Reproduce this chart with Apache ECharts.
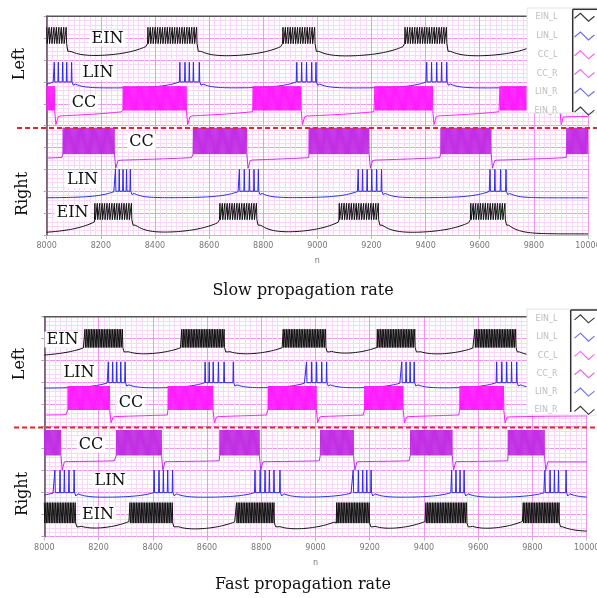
<!DOCTYPE html>
<html>
<head>
<meta charset="utf-8">
<script src="https://cdn.jsdelivr.net/npm/echarts@6/dist/echarts.min.js"></script>
<style>
  html, body { margin: 0; padding: 0; background: #fff; }
  #main { width: 597px; height: 598px; }
</style>
</head>
<body>
<div id="main"></div>
<script>
// x range and tick step of both panels
const N_MIN = 8000, N_MAX = 10000, N_STEP = 200;
const traceNames = ['EIN_L', 'LIN_L', 'CC_L', 'CC_R', 'LIN_R', 'EIN_R'];

// ---- slow propagation rate (burst [start, end] or spike times)
const slowEIN_L = [[8000, 8080], [8374, 8559], [8873, 8997], [9324, 9483], [9800, 9950]];
const slowLIN_L = [[8028, 8043, 8059, 8074, 8092], [8492, 8511, 8527, 8542, 8564],
                   [8924, 8942, 8960, 8979, 8995], [9404, 9422, 9441, 9459, 9478], [9880, 9898, 9916, 9934]];
const slowCC_L  = [[8000, 8031], [8283, 8517], [8763, 8942], [9213, 9427], [9675, 9895]];
const slowCC_R  = [[8061, 8252], [8542, 8739], [8970, 9192], [9457, 9641], [9922, 10000]];
const slowLIN_R = [[8254, 8268, 8282, 8295, 8309], [8712, 8730, 8749, 8766, 8782],
                   [9151, 9167, 9184, 9201, 9219, 9237], [9638, 9656, 9677, 9697]];
const slowEIN_R = [[8178, 8314], [8640, 8776], [9081, 9229], [9567, 9693]];

// ---- fast propagation rate
const fastEIN_L = [[8150, 8291], [8507, 8666], [8881, 9041], [9228, 9371], [9588, 9742]];
const fastLIN_L = [[8236, 8252, 8267, 8282, 8298], [8593, 8608, 8623, 8642, 8663, 8697],
                   [8967, 8986, 9004, 9023, 9041], [9318, 9334, 9349, 9364], [9668, 9687, 9705, 9723, 9742]];
const fastCC_L  = [[8088, 8242], [8457, 8623], [8826, 9002], [9182, 9324], [9533, 9693]];
const fastCC_R  = [[8000, 8060], [8267, 8433], [8648, 8795], [9019, 9139], [9351, 9504], [9711, 9846]];
const fastLIN_R = [[8039, 8058, 8074, 8091, 8110], [8405, 8423, 8439, 8455, 8473],
                   [8777, 8796, 8814, 8830, 8847, 8869], [9139, 9158, 9174, 9189, 9205],
                   [9502, 9518, 9533, 9548], [9846, 9865, 9881, 9896, 9924]];
const fastEIN_R = [[8000, 8119], [8316, 8476], [8709, 8851], [9078, 9201], [9407, 9557], [9766, 9899]];

// trace levels on the stacked y scale: [rest, preBurst, postBurst, dip, spikeLow, spikeTop]
const slowLevels = [
  [8.12, 8.65, 8.4, 8.4, 8.75, 9.5],
  [6.72, 7.0, 6.9, 6.85, 7.0, 7.9],
  [5.45, 5.65, 5.4, 5.05, 5.7, 6.8],
  [3.45, 3.55, 3.4, 3.05, 3.7, 4.9],
  [1.7, 2.0, 1.9, 1.85, 2.0, 3.0],
  [0.05, 0.6, 0.45, 0.45, 0.7, 1.45]
];
const fastLevels = [
  [8.18, 8.6, 8.4, 8.4, 8.6, 9.43],
  [6.75, 7.0, 6.9, 6.85, 7.0, 7.95],
  [5.5, 5.55, 5.44, 5.18, 5.76, 6.85],
  [3.4, 3.45, 3.4, 3.03, 3.7, 4.85],
  [1.78, 2.0, 1.95, 1.85, 2.0, 3.03],
  [0.23, 0.7, 0.45, 0.45, 0.62, 1.55]
];
// spike spacing inside dense bursts (0 = spike times listed)
const slowIsi = [9, 0, 4, 4, 0, 9];
const fastIsi = [6, 0, 4, 4, 0, 6];

const traceColors = ['#111111', '#2b2be6', '#ff1cff', '#c22ee4', '#2b2be6', '#111111'];
const legendColors = ['#333333', '#6a6af0', '#ff5cff', '#e26ae6', '#6a6af0', '#333333'];
const traceTau = [[40, 90], [30, 60], [150, 150], [150, 150], [30, 60], [40, 90]];

function toGroups(bursts, isi) {
  if (!isi) return bursts;
  return bursts.map(function (b) {
    const g = [];
    for (let t = b[0]; t <= b[1]; t += isi) g.push(t);
    return g;
  });
}

function buildTrace(groups, lv, tau, w) {
  const rest = lv[0], pre = lv[1], post = lv[2], dip = lv[3], low = lv[4], top = lv[5];
  const pts = [];
  let cur = N_MIN, afterBurst = false;
  function gap(a, b, rise) {
    for (let t = a; t < b; t += 8) {
      let v = rest;
      if (afterBurst) v += (post - rest) * Math.exp(-(t - a) / tau[0]);
      if (rise) v += (pre - rest) * Math.exp(-(b - t) / tau[1]);
      pts.push([t, v]);
    }
  }
  groups.forEach(function (g) {
    const s = g[0], e = g[g.length - 1];
    if (s - w > cur) gap(cur, s - w, true);
    g.forEach(function (t) {
      pts.push([t - w, low]);
      pts.push([t, top]);
      pts.push([t + w, low]);
    });
    pts.push([e + 3, low]);
    pts.push([e + 6, dip]);
    cur = e + 14;
    pts.push([cur, post]);
    afterBurst = true;
  });
  if (cur < N_MAX) {
    gap(cur, N_MAX, false);
    pts.push([N_MAX, rest + (post - rest) * Math.exp(-(N_MAX - cur) / tau[0])]);
  }
  return pts.filter(function (p) { return p[0] >= N_MIN && p[0] <= N_MAX; });
}

const slowRaw = [slowEIN_L, slowLIN_L, slowCC_L, slowCC_R, slowLIN_R, slowEIN_R];
const fastRaw = [fastEIN_L, fastLIN_L, fastCC_L, fastCC_R, fastLIN_R, fastEIN_R];

const myChart = echarts.init(document.getElementById('main'), null, { renderer: 'canvas' });

const gridLine = '#f294f2', gridMinor = '#fad6fa';
function xAxisOf(i) {
  return {
    type: 'value', gridIndex: i, min: N_MIN, max: N_MAX, interval: N_STEP,
    name: 'n', nameLocation: 'middle', nameGap: 22,
    nameTextStyle: { fontSize: 8, color: '#777', fontFamily: 'DejaVu Sans' },
    axisLine: { show: false },
    axisTick: { show: true, length: 4, lineStyle: { color: '#bbb' } },
    axisLabel: { fontSize: 8, color: '#777', margin: 7, fontFamily: 'DejaVu Sans',
      formatter: function (v) { return String(v); } },
    splitLine: { show: true, lineStyle: { color: gridLine, width: 1 } },
    minorTick: { show: false, splitNumber: 10 },
    minorSplitLine: { show: true, lineStyle: { color: gridMinor, width: 1 } }
  };
}
function yAxisOf(i) {
  return {
    type: 'value', gridIndex: i, min: 0, max: 10, interval: 1,
    axisLine: { show: true, lineStyle: { color: '#555', width: 1.5 } },
    axisTick: { show: true, length: 3, lineStyle: { color: '#aaa' } },
    axisLabel: { show: false },
    splitLine: { show: true, lineStyle: { color: gridLine, width: 1 } },
    minorTick: { show: false, splitNumber: 5 },
    minorSplitLine: { show: true, lineStyle: { color: gridMinor, width: 1 } }
  };
}

const series = [];
[slowRaw, fastRaw].forEach(function (raw, gi) {
  const levels = gi === 0 ? slowLevels : fastLevels;
  const isis = gi === 0 ? slowIsi : fastIsi;
  raw.forEach(function (arr, k) {
    const w = isis[k] ? Math.min(1.5, isis[k] / 3) : 1.6;
    series.push({
      name: traceNames[k], type: 'line',
      xAxisIndex: gi, yAxisIndex: gi,
      data: buildTrace(toGroups(arr, isis[k]), levels[k], traceTau[k], w),
      showSymbol: false, symbol: 'none', silent: true,
      lineStyle: { color: traceColors[k], width: 1 },
      itemStyle: { color: traceColors[k] },
      z: 2
    });
  });
});

function legendOf(top, gap) {
  return {
    orient: 'vertical', right: 2, top: top, padding: 0,
    itemWidth: 20, itemHeight: 8, itemGap: gap, align: 'right',
    selectedMode: false,
    icon: 'path://M0,5L6,0L14,8L20,3',
    textStyle: { color: '#bdbdbd', fontSize: 8, fontFamily: 'DejaVu Sans', padding: [0, 12, 0, 0] },
    data: traceNames.map(function (n, k) {
      return { name: n, itemStyle: { color: 'transparent', borderColor: legendColors[k], borderWidth: 1.1 } };
    }),
    z: 6
  };
}

function label(text, x, y) {
  return {
    type: 'text', x: x, y: y, z: 20,
    style: {
      text: text, fill: '#111', font: '16px "DejaVu Serif"',
      textAlign: 'center', textVerticalAlign: 'middle',
      backgroundColor: '#fff', padding: [0, 2]
    }
  };
}
function side(text, x, y) {
  return {
    type: 'text', x: x, y: y, rotation: Math.PI / 2, z: 20,
    style: { text: text, fill: '#111', font: '16px "DejaVu Serif"', textAlign: 'center', textVerticalAlign: 'middle' }
  };
}
function hline(x1, y, x2, color, w, dash, z) {
  return { type: 'line', z: z, silent: true,
    shape: { x1: x1, y1: y, x2: x2, y2: y },
    style: { stroke: color, lineWidth: w, lineDash: dash || null } };
}
function vline(x, y1, y2, color, w, z) {
  return { type: 'line', z: z, silent: true,
    shape: { x1: x, y1: y1, x2: x, y2: y2 }, style: { stroke: color, lineWidth: w } };
}
function box(x, y, w, h) {
  return { type: 'rect', z: 5, silent: true, shape: { x: x, y: y, width: w, height: h },
    style: { fill: '#fff', stroke: '#e2e2e2', lineWidth: 1 } };
}

const option = {
  animation: false,
  backgroundColor: '#fff',
  grid: [
    { left: 46.7, right: 9, top: 16.3, height: 218.7, outerBoundsMode: 'none' },
    { left: 44.3, right: 10.3, top: 316.7, height: 220, outerBoundsMode: 'none' }
  ],
  xAxis: [xAxisOf(0), xAxisOf(1)],
  yAxis: [yAxisOf(0), yAxisOf(1)],
  legend: [legendOf(12.7, 9.66), legendOf(314.3, 9.2)],
  series: series,
  graphic: [
    // frame tops
    hline(46, 16.3, 527, '#555', 1.5, null, 4),
    hline(43.5, 316.7, 527, '#555', 1.5, null, 4),
    // legend boxes
    box(527, 8, 72, 105),
    box(527, 309, 72, 106),
    vline(572.7, 9.3, 112, '#333', 1.5, 7),
    hline(572.7, 9.3, 597, '#333', 1.5, null, 7),
    vline(570.7, 310, 412, '#333', 1.5, 7),
    hline(570.7, 310, 597, '#333', 1.5, null, 7),
    // left / right separators
    hline(17, 128, 597, '#e4262c', 2, [5, 3], 8),
    hline(14, 427.6, 597, '#e4262c', 2, [5, 3], 8),
    // panel labels
    side('Left', 20, 64),
    side('Right', 23, 194),
    side('Left', 20, 364),
    side('Right', 23, 494),
    // trace labels
    label('EIN', 107.5, 38.5), label('LIN', 98, 72.5), label('CC', 84, 102.5),
    label('CC', 141.5, 141.7), label('LIN', 82.5, 180), label('EIN', 72.5, 212.5),
    label('EIN', 62.5, 339.5), label('LIN', 79, 372.5), label('CC', 131, 402.5),
    label('CC', 91, 444.5), label('LIN', 110, 480.5), label('EIN', 98, 514.5),
    // captions
    { type: 'text', x: 303, y: 291, z: 20,
      style: { text: 'Slow propagation rate', fill: '#111', font: '16px "DejaVu Serif"', textAlign: 'center', textVerticalAlign: 'middle' } },
    { type: 'text', x: 303, y: 585, z: 20,
      style: { text: 'Fast propagation rate', fill: '#111', font: '16px "DejaVu Serif"', textAlign: 'center', textVerticalAlign: 'middle' } }
  ]
};

myChart.setOption(option);
</script>
</body>
</html>
